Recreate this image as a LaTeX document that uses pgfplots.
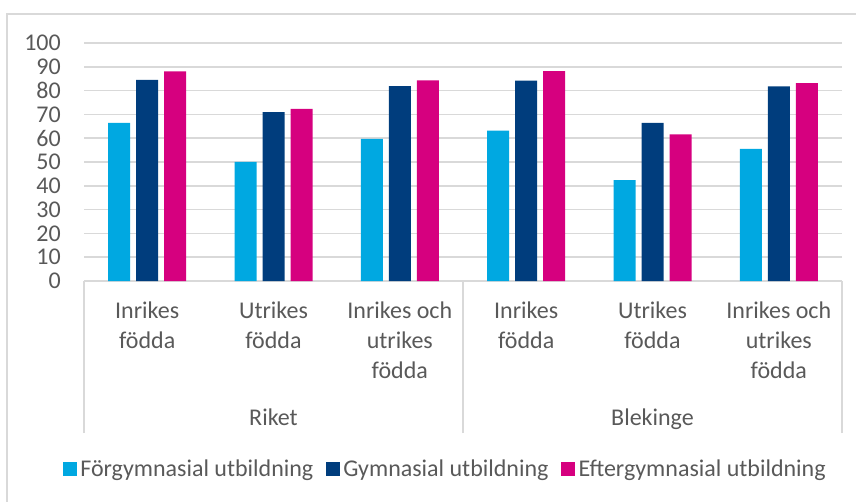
\documentclass[border=0pt]{standalone}
\usepackage{fontspec}
\setmainfont{Carlito}
\usepackage{pgfplots}
\pgfplotsset{compat=1.18}
\definecolor{cfor}{RGB}{0,168,225}
\definecolor{cgym}{RGB}{0,61,125}
\definecolor{ceft}{RGB}{214,0,127}
\definecolor{gridc}{RGB}{217,217,217}
\definecolor{txt}{RGB}{89,89,89}
\newcommand{\cf}{\fontsize{24}{30}\selectfont}
\begin{document}
\begin{tikzpicture}[x=1pt,y=1pt]
\useasboundingbox (0,0) rectangle (856,501);
\draw[gridc, line width=1.5pt] (7,487) rectangle (880,-20);
\begin{axis}[
  at={(84pt,220pt)}, anchor=south west,
  width=758pt, height=238pt, scale only axis,
  clip=false,
  ymin=0, ymax=100, ytick={0,10,...,100},
  xmin=-0.5, xmax=5.5,
  xtick={0,...,5},
  xticklabels={{Inrikes\\födda},{Utrikes\\födda},{Inrikes och\\utrikes\\födda},{Inrikes\\födda},{Utrikes\\födda},{Inrikes och\\utrikes\\födda}},
  axis lines=left,
  axis line style={-},
  x axis line style={gridc, line width=1.5pt},
  y axis line style={draw=none},
  major tick length=0pt,
  ymajorgrids, grid style={gridc, line width=1.5pt},
  /pgf/number format/assume math mode=true,
  yticklabel style={font=\cf, text=txt, anchor=east, inner sep=0pt, xshift=-23pt},
  xticklabel style={font=\cf, text=txt, anchor=north, inner sep=0pt, align=center, yshift=-21pt},
  extra x ticks={-0.5,2.5,5.5},
  extra x tick labels={},
  extra x tick style={major tick length=152pt, tick align=outside, tick style={gridc, line width=1.5pt}},
  ybar=6pt, bar width=22pt,
  legend columns=3,
  legend style={at={(0.4776,-0.79)}, anchor=center, draw=none, fill=none, font=\cf, text=txt,
    /tikz/every even column/.append style={column sep=9pt},
    nodes={inner xsep=3.5pt, inner ysep=0pt}},
  legend image code/.code={\fill[#1] (0pt,-7pt) rectangle (14pt,7pt);},
]
\addplot[fill=cfor, draw=none] coordinates {(0,66.4)(1,50.1)(2,59.7)(3,63.2)(4,42.4)(5,55.5)};
\addplot[fill=cgym, draw=none] coordinates {(0,84.5)(1,71.0)(2,81.9)(3,84.2)(4,66.4)(5,81.8)};
\addplot[fill=ceft, draw=none] coordinates {(0,88.1)(1,72.3)(2,84.3)(3,88.2)(4,61.6)(5,83.1)};
\legend{Förgymnasial utbildning, Gymnasial utbildning, Eftergymnasial utbildning}
\node[font=\cf, text=txt, anchor=base] at (axis cs:1,0) [yshift=-144pt] {Riket};
\node[font=\cf, text=txt, anchor=base] at (axis cs:4,0) [yshift=-144pt] {Blekinge};
\end{axis}
\end{tikzpicture}
\end{document}
